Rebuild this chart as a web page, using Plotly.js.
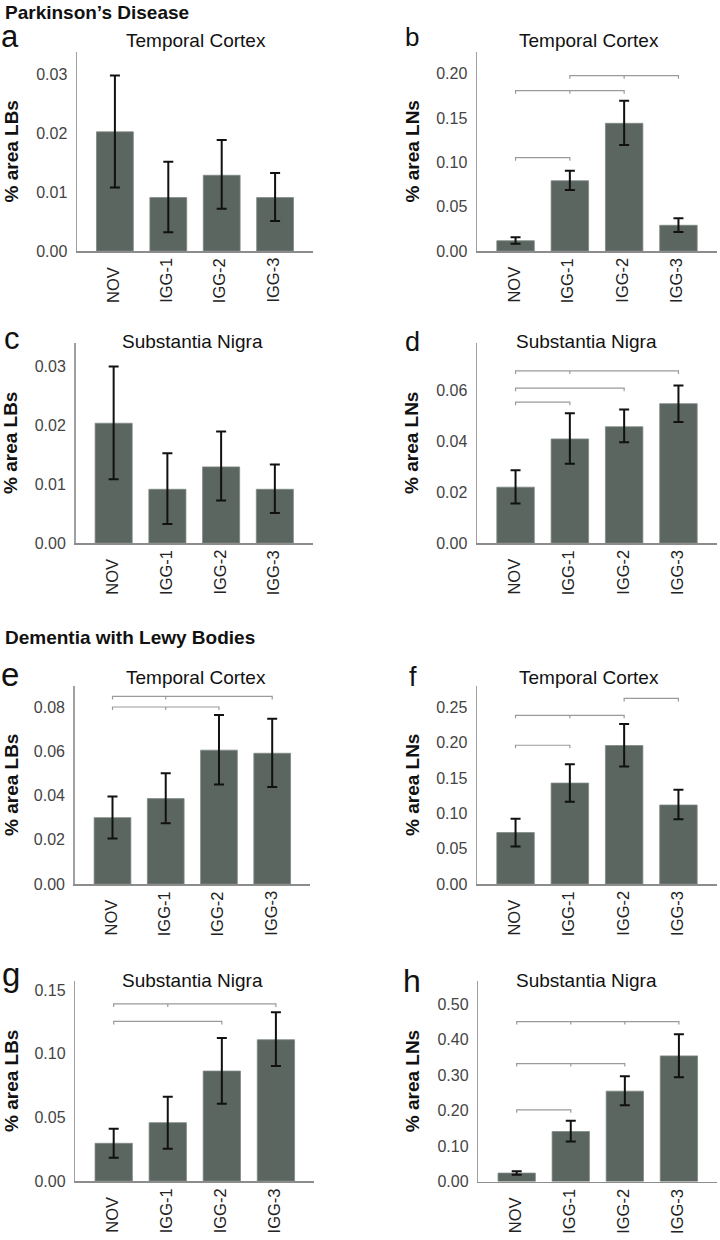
<!DOCTYPE html>
<html>
<head>
<meta charset="utf-8">
<script src="https://cdn.plot.ly/plotly-3.0.1.min.js"></script>
<style>
  body { margin: 0; background: #fff; }
  #chart { width: 720px; height: 1240px; }
</style>
</head>
<body>
<div id="chart"></div>
<script>
// groups on the x axis (same for all panels)
const groups = ['NOV', 'IGG-1', 'IGG-2', 'IGG-3'];

// Parkinson's disease - temporal cortex, LBs
const pdTcLB = [0.0203, 0.0091, 0.0129, 0.0091];
const pdTcLBHi = [0.0299, 0.0152, 0.0189, 0.0133];
const pdTcLBLo = [0.0108, 0.0032, 0.0072, 0.0051];
// Parkinson's disease - temporal cortex, LNs
const pdTcLN = [0.0116, 0.0793, 0.1441, 0.0290];
const pdTcLNHi = [0.0155, 0.0906, 0.1696, 0.0369];
const pdTcLNLo = [0.0082, 0.0688, 0.1196, 0.0214];
// Parkinson's disease - substantia nigra, LBs
const pdSnLB = [0.0203, 0.0091, 0.0129, 0.0091];
const pdSnLBHi = [0.0299, 0.0152, 0.0189, 0.0133];
const pdSnLBLo = [0.0108, 0.0032, 0.0072, 0.0051];
// Parkinson's disease - substantia nigra, LNs
const pdSnLN = [0.0220, 0.0410, 0.0458, 0.0549];
const pdSnLNHi = [0.0287, 0.0511, 0.0526, 0.0621];
const pdSnLNLo = [0.0156, 0.0312, 0.0397, 0.0477];
// DLB - temporal cortex, LBs
const dlbTcLB = [0.0300, 0.0386, 0.0605, 0.0591];
const dlbTcLBHi = [0.0395, 0.0501, 0.0764, 0.0747];
const dlbTcLBLo = [0.0206, 0.0275, 0.0450, 0.0438];
// DLB - temporal cortex, LNs
const dlbTcLN = [0.0727, 0.1427, 0.1958, 0.1117];
const dlbTcLNHi = [0.0924, 0.1694, 0.2262, 0.1332];
const dlbTcLNLo = [0.0530, 0.1163, 0.1662, 0.0915];
// DLB - substantia nigra, LBs
const dlbSnLB = [0.0296, 0.0458, 0.0863, 0.1109];
const dlbSnLBHi = [0.0410, 0.0662, 0.1122, 0.1324];
const dlbSnLBLo = [0.0183, 0.0254, 0.0607, 0.0903];
// DLB - substantia nigra, LNs
const dlbSnLN = [0.0237, 0.1408, 0.2546, 0.3540];
const dlbSnLNHi = [0.0290, 0.1710, 0.2969, 0.4152];
const dlbSnLNLo = [0.0190, 0.1127, 0.2152, 0.2940];

// significance brackets: [from group, to group, level, middle ticks...]
const pdTcLNSig = [[0, 1, 0.1053], [0, 2, 0.1809, 1], [1, 3, 0.1979, 2]];
const pdSnLNSig = [[0, 3, 0.0678, 1], [0, 2, 0.0610], [0, 1, 0.0555]];
const dlbTcLBSig = [[0, 3, 0.0848, 1], [0, 2, 0.0800, 1]];
const dlbTcLNSig = [[2, 3, 0.2624], [0, 2, 0.2385, 1], [0, 1, 0.1962]];
const dlbSnLBSig = [[0, 3, 0.1390, 1], [0, 2, 0.1253]];
const dlbSnLNSig = [[0, 3, 0.4507, 1, 2], [0, 2, 0.3324, 1], [0, 1, 0.2020]];

const W = 720, H = 1240;
const FONT = 'Liberation Sans, Arial, sans-serif';

// box = [left, top, right, bottom] in px; tx/tb = title centre x / baseline
const panels = [
    { letter: 'a', lpos: [10, 48, 31], title: 'Temporal Cortex', tx: 196, tb: 48, ytitle: '% area LBs',
      mean: pdTcLB, hi: pdTcLBHi, lo: pdTcLBLo, sig: [], ymax: 0.0339, dtick: 0.01, box: [77, 52, 313, 251] },
    { letter: 'b', lpos: [412, 48, 26], title: 'Temporal Cortex', tx: 589, tb: 48, ytitle: '% area LNs',
      mean: pdTcLN, hi: pdTcLNHi, lo: pdTcLNLo, sig: pdTcLNSig, ymax: 0.2246, dtick: 0.05, box: [477, 52, 717, 251] },
    { letter: 'c', lpos: [12, 350, 31], title: 'Substantia Nigra', tx: 192, tb: 349, ytitle: '% area LBs',
      mean: pdSnLB, hi: pdSnLBHi, lo: pdSnLBLo, sig: [], ymax: 0.0339, dtick: 0.01, box: [75.5, 343, 313, 543] },
    { letter: 'd', lpos: [412, 352, 27], title: 'Substantia Nigra', tx: 586, tb: 349, ytitle: '% area LNs',
      mean: pdSnLN, hi: pdSnLNHi, lo: pdSnLNLo, sig: pdSnLNSig, ymax: 0.0788, dtick: 0.02, box: [477, 343, 717, 543] },
    { letter: 'e', lpos: [10, 687, 33], title: 'Temporal Cortex', tx: 196, tb: 685, ytitle: '% area LBs',
      mean: dlbTcLB, hi: dlbTcLBHi, lo: dlbTcLBLo, sig: dlbTcLBSig, ymax: 0.0895, dtick: 0.02, box: [74.7, 686, 310, 884] },
    { letter: 'f', lpos: [413, 687, 27], title: 'Temporal Cortex', tx: 589, tb: 685, ytitle: '% area LNs',
      mean: dlbTcLN, hi: dlbTcLNHi, lo: dlbTcLNLo, sig: dlbTcLNSig, ymax: 0.28, dtick: 0.05, box: [477, 686, 717, 884] },
    { letter: 'g', lpos: [11, 987, 33], title: 'Substantia Nigra', tx: 192, tb: 988, ytitle: '% area LBs',
      mean: dlbSnLB, hi: dlbSnLBHi, lo: dlbSnLBLo, sig: dlbSnLBSig, ymax: 0.157, dtick: 0.05, box: [75.3, 981, 314.3, 1181] },
    { letter: 'h', lpos: [412, 993, 32], title: 'Substantia Nigra', tx: 586, tb: 988, ytitle: '% area LNs',
      mean: dlbSnLN, hi: dlbSnLNHi, lo: dlbSnLNLo, sig: dlbSnLNSig, ymax: 0.565, dtick: 0.1, box: [478.3, 981, 717.3, 1181.5] }
];

const traces = [];
const annotations = [];
const layout = {
    width: W, height: H,
    margin: { l: 0, r: 0, t: 0, b: 0 },
    paper_bgcolor: '#fff', plot_bgcolor: 'rgba(0,0,0,0)',
    showlegend: false,
    font: { family: FONT, color: '#222' },
    annotations
};

// text placed by its baseline (px)
function label(text, x, baseline, size, extra) {
    annotations.push(Object.assign({
        text, xref: 'paper', yref: 'paper', x: x / W,
        y: 1 - (baseline + 0.21 * size + 1) / H,
        xanchor: 'center', yanchor: 'bottom', showarrow: false,
        font: { family: FONT, size, color: '#111' }
    }, extra || {}));
}

panels.forEach((p, i) => {
    const n = i === 0 ? '' : String(i + 1);
    const [x0, y0, x1, y1] = p.box;
    const xs = groups.map((g, k) => k);

    traces.push({
        type: 'bar', x: xs, y: p.mean, width: 0.69,
        xaxis: 'x' + n, yaxis: 'y' + n,
        marker: { color: '#5b6660', line: { color: '#7f8984', width: 0.8 } },
        error_y: {
            type: 'data', symmetric: false,
            array: p.mean.map((m, k) => p.hi[k] - m),
            arrayminus: p.mean.map((m, k) => m - p.lo[k]),
            color: '#111', thickness: 2, width: 5
        },
        hoverinfo: 'skip'
    });

    // brackets drawn in data units, ticks ~3px long
    const tick = 3 * p.ymax / (y1 - y0);
    p.sig.forEach(s => {
        const [a, b, lvl, ...mids] = s;
        const bx = [a, a, b, b], by = [lvl - tick, lvl, lvl, lvl - tick];
        mids.forEach(m => { bx.push(null, m, m); by.push(null, lvl, lvl - tick); });
        traces.push({
            type: 'scatter', mode: 'lines', x: bx, y: by,
            xaxis: 'x' + n, yaxis: 'y' + n,
            line: { color: '#9a9a9a', width: 1.2 }, hoverinfo: 'skip'
        });
    });

    layout['xaxis' + n] = {
        domain: [x0 / W, x1 / W], anchor: 'y' + n,
        range: [-0.71, 3.71], tickvals: xs, showticklabels: false,
        showline: true, linecolor: '#8c8c8c', linewidth: 1.5,
        ticks: '', showgrid: false, zeroline: false, fixedrange: true
    };
    layout['yaxis' + n] = {
        domain: [1 - y1 / H, 1 - y0 / H], anchor: 'x' + n,
        range: [0, p.ymax], dtick: p.dtick, tick0: 0, tickformat: '.2f',
        showline: true, linecolor: '#a0a0a0', linewidth: 1.5,
        ticks: '', showgrid: false, zeroline: false, fixedrange: true,
        ticklabelstandoff: 5,
        tickfont: { family: FONT, size: 16, color: '#444' }
    };

    // group labels: rotated, text starts aligned below the axis
    groups.forEach((g, k) => {
        annotations.push({
            text: g, textangle: -90, xref: 'x' + n, yref: 'paper',
            x: k, xshift: -2, y: 1 - (y1 + 53) / H,
            xanchor: 'center', yanchor: 'bottom', borderpad: 0, showarrow: false,
            font: { family: FONT, size: 16.5, color: '#222' }
        });
    });

    label(p.letter, p.lpos[0], p.lpos[1], p.lpos[2]);
    label(p.title, p.tx, p.tb, 19);
    const left = x0 < 200;
    annotations.push({
        text: '<b>' + p.ytitle + '</b>', textangle: -90,
        xref: 'paper', yref: 'paper',
        x: (left ? 11 : 412) / W, y: 1 - (y0 + y1) / 2 / H,
        xanchor: 'center', yanchor: 'middle', showarrow: false,
        font: { family: FONT, size: 19, color: '#111' }
    });
});

annotations.push({
    text: '<b>Parkinson’s Disease</b>', xref: 'paper', yref: 'paper',
    x: 3 / W, y: 1, xanchor: 'left', yanchor: 'top', showarrow: false,
    font: { family: FONT, size: 19, color: '#111' }
});
label('<b>Dementia with Lewy Bodies</b>', 3, 645, 19, { xanchor: 'left' });

Plotly.newPlot('chart', traces, layout, { staticPlot: true, displayModeBar: false });
</script>
</body>
</html>
